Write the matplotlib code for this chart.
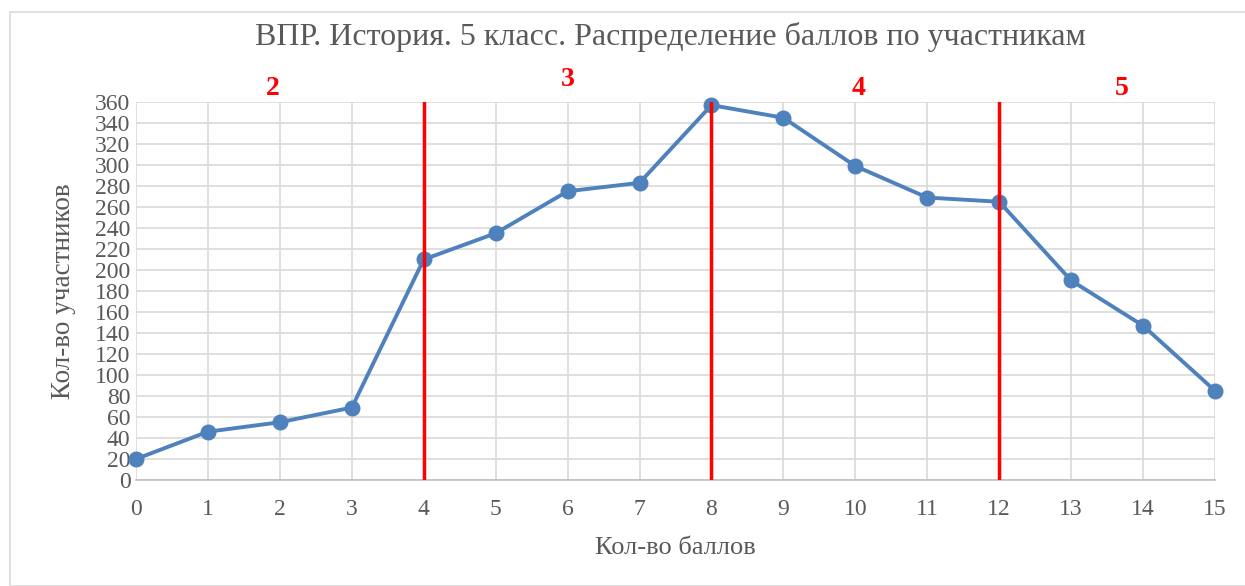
import matplotlib.pyplot as plt
from matplotlib.patches import Rectangle

plt.rcParams['font.family'] = ['Liberation Serif', 'DejaVu Serif']

# данные
bally = list(range(16))
uchastniki = [20, 46, 55, 69, 210, 235, 275, 283, 357, 345, 299, 269, 265, 190, 147, 85]
granicy = [4, 8, 12]
ocenki = ['2', '3', '4', '5']
ocenki_x = [1.9, 6.0, 10.05, 13.7]
ocenki_y = [373, 381, 373, 373]

fig = plt.figure(figsize=(12.45, 5.86), dpi=100)
fig.patches.append(Rectangle((10 / 1245, 0), 1.0, 1 - 12 / 586, transform=fig.transFigure,
                             fill=False, edgecolor='#D9D9D9', linewidth=1.2))
ax = fig.add_axes([136 / 1245, 1 - 480 / 586, (1215 - 136) / 1245, (480 - 102) / 586])

ax.plot(bally, uchastniki, color='#4F81BD', linewidth=2.8, marker='o', markersize=10.5,
        zorder=3, clip_on=False)
for g in granicy:
    ax.axvline(g, color='#FF0000', linewidth=2.5, zorder=4)
for t, x, y in zip(ocenki, ocenki_x, ocenki_y):
    ax.text(x, y, t, color='#FF0000', fontsize=20, fontweight='bold', ha='center', va='center', clip_on=False)

ax.set_xlim(0, 15)
ax.set_ylim(0, 360)
ax.set_xticks(bally)
ax.set_yticks(range(0, 361, 20))
ax.grid(True, color='#D9D9D9', linewidth=1.2)
ax.set_axisbelow(True)
for s in ['top', 'right', 'left']:
    ax.spines[s].set_visible(False)
ax.spines['bottom'].set_color('#BFBFBF')
ax.spines['bottom'].set_linewidth(1.2)
ax.tick_params(length=0, labelsize=17, labelcolor='#595959')
ax.tick_params(axis='x', pad=14)
ax.tick_params(axis='y', pad=4)

ax.set_xlabel('Кол-во баллов', fontsize=19, color='#595959', labelpad=12)
ax.set_ylabel('Кол-во участников', fontsize=19.5, color='#595959', labelpad=14)
fig.text(670 / 1245, 1 - 37 / 586, 'ВПР. История. 5 класс. Распределение баллов по участникам',
         fontsize=23, color='#595959', ha='center', va='center')

fig.savefig('out.png', dpi=100)
